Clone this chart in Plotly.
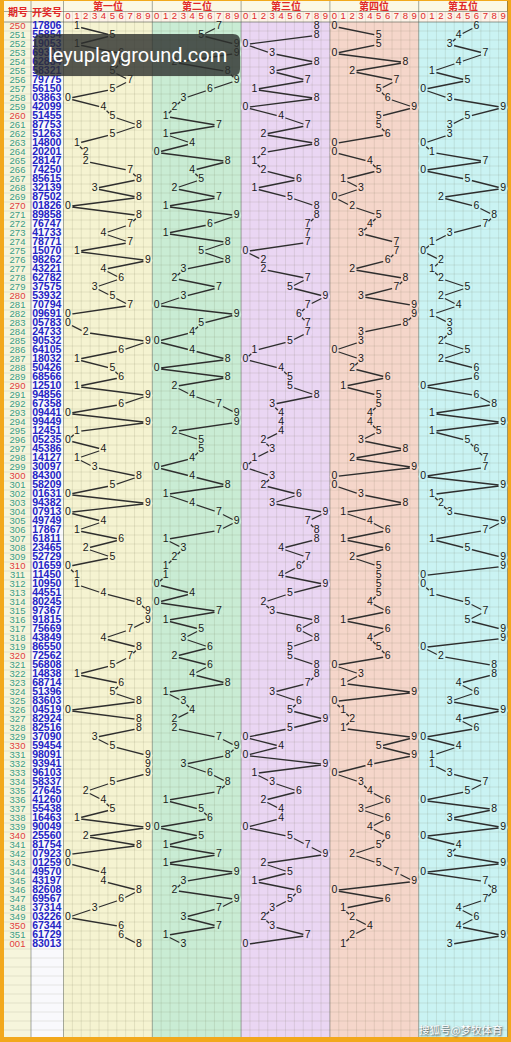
import plotly.graph_objects as go

# ---------------- data ----------------
issues = [str(i) for i in range(250, 352)] + ["001"]
draws = [
    "17806", "55854", "19053", "69307", "62884", "58321", "79775", "56150", "03863", "42099",
    "51455", "87753", "51263", "14800", "20201", "28147", "74250", "85615", "32139", "87502",
    "01826", "89858", "76747", "41733", "78771", "15070", "98262", "43221", "62782", "37575",
    "53932", "70794", "09691", "05783", "24733", "90532", "64105", "18032", "50426", "68566",
    "12510", "94856", "67358", "09441", "99449", "12451", "05235", "45386", "14127", "30097",
    "84300", "58209", "01631", "94382", "07913", "49749", "17867", "61811", "23465", "52729",
    "01659", "11450", "10950", "44551", "80245", "97367", "91815", "75669", "43849", "86550",
    "72562", "56808", "14838", "68714", "51396", "83603", "04519", "82924", "82516", "37090",
    "59454", "98091", "93941", "96103", "58337", "27645", "41260", "55438", "16463", "90049",
    "25560", "81754", "07923", "01259", "49570", "43197", "82608", "69567", "37314", "03226",
    "67344", "61729", "83013",
]
panel_titles = ["第一位", "第二位", "第三位", "第四位", "第五位"]
digit_labels = [str(d) for d in range(10)]
panel_colors = ["#f5f3d1", "#c9ecd4", "#ead6f3", "#f5d6ca", "#caf3f3"]

# ---------------- geometry ----------------
W, H = 511, 1042
ROW_H = 9.0
TOP = 22.0           # top of first data row
GRID_BOTTOM = 1037.0
X_ISSUE = (4, 31)
X_DRAW = (31, 63.5)
P0 = 63.5
PW = 88.8
CW = PW / 10

def row_y(i):
    return TOP + ROW_H * (i + 0.5)

def col_x(p, d):
    return P0 + p * PW + (d + 0.5) * CW

n_rows_total = int((GRID_BOTTOM - TOP) // ROW_H) + 1

fig = go.Figure()
shapes = []

# backgrounds
shapes.append(dict(type="rect", x0=0, x1=W, y0=0, y1=H, fillcolor="#f2a81c", line_width=0, layer="below"))
shapes.append(dict(type="rect", x0=4, x1=507, y0=1, y1=GRID_BOTTOM, fillcolor="#fbf8e4", line_width=0, layer="below"))
shapes.append(dict(type="rect", x0=X_ISSUE[0], x1=X_ISSUE[1], y0=TOP, y1=GRID_BOTTOM, fillcolor="#f6f5dc", line_width=0, layer="below"))
shapes.append(dict(type="rect", x0=X_DRAW[0], x1=X_DRAW[1], y0=TOP, y1=GRID_BOTTOM, fillcolor="#f9f9fc", line_width=0, layer="below"))
for p, c in enumerate(panel_colors):
    shapes.append(dict(type="rect", x0=P0 + p * PW, x1=P0 + (p + 1) * PW, y0=TOP, y1=GRID_BOTTOM,
                       fillcolor=c, line_width=0, layer="below"))
    shapes.append(dict(type="rect", x0=P0 + p * PW, x1=P0 + (p + 1) * PW, y0=11.5, y1=TOP,
                       fillcolor="#fdf3e8", line_width=0, layer="below"))

# grid lines
gx, gy = [], []
for k in range(n_rows_total + 1):
    y = TOP + k * ROW_H
    if y > GRID_BOTTOM:
        break
    gx += [4, 507, None]
    gy += [y, y, None]
for p in range(5):
    for d in range(1, 10):
        x = P0 + p * PW + d * CW
        gx += [x, x, None]
        gy += [11.5, GRID_BOTTOM, None]
fig.add_trace(go.Scatter(x=gx, y=gy, mode="lines", line=dict(color="rgba(90,90,60,0.12)", width=1),
                         hoverinfo="skip", showlegend=False))

# heavier separators
sx, sy = [], []
for x in [X_ISSUE[1], X_DRAW[1]] + [P0 + p * PW for p in range(1, 6)]:
    sx += [x, x, None]
    sy += [1, GRID_BOTTOM, None]
sx += [4, 507, None, 4, 507, None]
sy += [11.5, 11.5, None, TOP, TOP, None]
fig.add_trace(go.Scatter(x=sx, y=sy, mode="lines", line=dict(color="rgba(80,90,80,0.5)", width=1),
                         hoverinfo="skip", showlegend=False))

# ---------------- panels: lines + digits ----------------
for p in range(5):
    digits = [int(s[p]) for s in draws]
    xs = [col_x(p, d) for d in digits]
    ys = [row_y(i) for i in range(len(digits))]
    fig.add_trace(go.Scatter(x=xs, y=ys, mode="lines", line=dict(color="#2e2e2e", width=1.3),
                             hoverinfo="skip", showlegend=False))
    fig.add_trace(go.Scatter(x=xs, y=ys, mode="markers",
                             marker=dict(size=9, color=panel_colors[p], line_width=0),
                             hoverinfo="skip", showlegend=False))
    fig.add_trace(go.Scatter(x=xs, y=ys, mode="text", text=[str(d) for d in digits],
                             textfont=dict(family="Liberation Sans, Arial", size=10.5, color="#1a1a1a"),
                             hoverinfo="skip", showlegend=False))

# ---------------- left columns ----------------
issue_colors = ["#e03c3c" if (s.endswith("0") or s == "001") else "#3a9c86" for s in issues]
fig.add_trace(go.Scatter(x=[(X_ISSUE[0] + X_ISSUE[1]) / 2] * len(issues), y=[row_y(i) for i in range(len(issues))],
                         mode="text", text=issues,
                         textfont=dict(family="Liberation Sans, Arial", size=9.5, color=issue_colors),
                         hoverinfo="skip", showlegend=False))
fig.add_trace(go.Scatter(x=[(X_DRAW[0] + X_DRAW[1]) / 2 - 0.5] * len(draws), y=[row_y(i) for i in range(len(draws))],
                         mode="text", text=draws,
                         textfont=dict(family="Liberation Sans, Arial", size=10.5, color="#2424c4", weight="bold"),
                         hoverinfo="skip", showlegend=False))

# ---------------- header ----------------
ann = []
ann.append(dict(x=(X_ISSUE[0] + X_ISSUE[1]) / 2, y=11.5, text="<b>期号</b>", showarrow=False,
                font=dict(family="Noto Sans CJK SC", size=10, color="#e02828")))
ann.append(dict(x=(X_DRAW[0] + X_DRAW[1]) / 2, y=11.5, text="<b>开奖号</b>", showarrow=False,
                font=dict(family="Noto Sans CJK SC", size=10, color="#e02828")))
for p, t in enumerate(panel_titles):
    ann.append(dict(x=P0 + p * PW + PW / 2, y=5.5, text="<b>" + t + "</b>", showarrow=False,
                    font=dict(family="Noto Sans CJK SC", size=10, color="#e02828")))
hx, hy, ht = [], [], []
for p in range(5):
    for d, lab in enumerate(digit_labels):
        hx.append(col_x(p, d))
        hy.append(16.8)
        ht.append(lab)
fig.add_trace(go.Scatter(x=hx, y=hy, mode="text", text=ht,
                         textfont=dict(family="Liberation Sans, Arial", size=9.5, color="#e02828"),
                         hoverinfo="skip", showlegend=False))

# ---------------- watermarks ----------------
x0w, x1w, y0w, y1w, r = 34, 240, 34, 76, 7
path = (f"M{x0w+r},{y0w} L{x1w-r},{y0w} Q{x1w},{y0w} {x1w},{y0w+r} L{x1w},{y1w-r} Q{x1w},{y1w} {x1w-r},{y1w} "
        f"L{x0w+r},{y1w} Q{x0w},{y1w} {x0w},{y1w-r} L{x0w},{y0w+r} Q{x0w},{y0w} {x0w+r},{y0w} Z")
shapes.append(dict(type="path", path=path, fillcolor="rgba(45,48,45,0.80)", line_width=0, layer="above"))
ann.append(dict(x=(x0w + x1w) / 2, y=(y0w + y1w) / 2, text="leyuplayground.com", showarrow=False,
                font=dict(family="Roboto, Open Sans", size=20, color="white")))
ann.append(dict(x=460, y=1029, text="搜狐号@梦牧体育", showarrow=False,
                font=dict(family="Noto Sans CJK SC", size=10.5, color="white", shadow="1px 1px 2px #333333")))

fig.update_layout(
    width=W, height=H, margin=dict(l=0, r=0, t=0, b=0),
    paper_bgcolor="#f2a81c", plot_bgcolor="#f2a81c",
    xaxis=dict(range=[0, W], visible=False, fixedrange=True),
    yaxis=dict(range=[H, 0], visible=False, fixedrange=True),
    shapes=shapes, annotations=ann, showlegend=False,
)
fig.write_html("out.html")
